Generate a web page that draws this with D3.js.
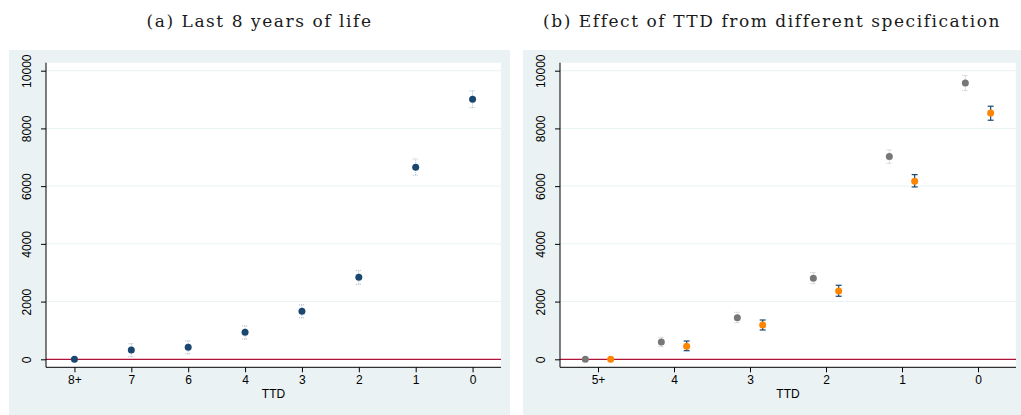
<!DOCTYPE html>
<html>
<head>
<meta charset="utf-8">
<script src="https://cdn.jsdelivr.net/npm/d3@7/dist/d3.min.js"></script>
<style>
  html, body { margin: 0; padding: 0; background: #ffffff; }
  svg { display: block; }
</style>
</head>
<body>
<svg id="chart" width="1021" height="415"></svg>
<script>
// Panel (a): coefficient by years to death, last 8 years of life
const catsA = ["8+", "7", "6", "4", "3", "2", "1", "0"];
const estA  = [0, 322, 415, 935, 1663, 2842, 6655, 9012];
const loA   = [0, 90, 190, 700, 1440, 2600, 6380, 8720];
const hiA   = [0, 540, 640, 1160, 1890, 3080, 6940, 9300];

// Panel (b): two specifications of the time-to-death effect
const catsB = ["5+", "4", "3", "2", "1", "0"];
const estB1 = [0, 600, 1442, 2808, 7023, 9577];   // grey specification
const loB1  = [0, 437, 1270, 2623, 6794, 9311];
const hiB1  = [0, 762, 1629, 3004, 7255, 9831];
const estB2 = [0, 450, 1189, 2367, 6170, 8537];   // orange specification
const loB2  = [0, 298, 1016, 2184, 5972, 8284];
const hiB2  = [0, 634, 1362, 2565, 6399, 8770];

const yTicks = [0, 2000, 4000, 6000, 8000, 10000];
const titles = ["(a) Last 8 years of life", "(b) Effect of TTD from different specification"];
const xTitle = "TTD";

const BG = "#eaf2f3";
const NAVY = "#1a476f";
const GREY = "#777777";
const ORANGE = "#ff8400";
const ZERO = "#b0123b";

const svg = d3.select("#chart");

// captions: 17px serif, lightly letter-spaced so panel (a)'s caption is about 226px wide
const TITLE_FONT = "DejaVu Serif, serif";
const TITLE_SIZE = 17;
const probe = svg.append("text")
  .attr("font-family", TITLE_FONT)
  .attr("font-size", TITLE_SIZE)
  .text(titles[0]);
const titleSpacing = Math.max(0, (226 - probe.node().getComputedTextLength()) / titles[0].length);
probe.remove();

function panel(opts) {
  const { bx, bw, px0, px1, cats, title, series } = opts;
  const by = 50, bh = 365;
  const py0 = 62.7, py1 = 367.3;

  svg.append("rect").attr("x", bx).attr("y", by).attr("width", bw).attr("height", bh).attr("fill", BG);
  svg.append("rect").attr("x", px0).attr("y", py0).attr("width", px1 - px0).attr("height", py1 - py0).attr("fill", "#ffffff");

  svg.append("text")
    .attr("x", (bx + bw / 2)).attr("y", 26.5)
    .attr("text-anchor", "middle")
    .attr("font-family", TITLE_FONT)
    .attr("font-size", TITLE_SIZE)
    .attr("letter-spacing", titleSpacing)
    .attr("fill", "#1a1a1a")
    .text(title);

  const x = d3.scaleLinear().domain([-0.5, cats.length - 0.5]).range([px0, px1]);
  const y = d3.scaleLinear().domain([0, 10000]).range([359.3, 70.7]);

  // horizontal grid lines
  svg.append("g").selectAll("line").data(yTicks.filter(d => d > 0)).join("line")
    .attr("x1", px0).attr("x2", px1)
    .attr("y1", d => y(d)).attr("y2", d => y(d))
    .attr("stroke", BG).attr("stroke-width", 1);

  // zero reference line
  svg.append("line")
    .attr("x1", px0).attr("x2", px1)
    .attr("y1", y(0)).attr("y2", y(0))
    .attr("stroke", ZERO).attr("stroke-width", 1.2);

  // y axis
  const yAxis = d3.axisLeft(y).tickValues(yTicks).tickSize(5).tickPadding(5).tickFormat(d3.format("d"));
  const gy = svg.append("g").attr("transform", `translate(${px0},0)`).call(yAxis);
  gy.select(".domain").remove();
  gy.append("line").attr("x1", 0).attr("x2", 0).attr("y1", py0).attr("y2", py1).attr("stroke", "#000").attr("stroke-width", 1);
  gy.selectAll(".tick line").attr("stroke", "#000");
  gy.selectAll(".tick text")
    .attr("transform", "rotate(-90)")
    .attr("x", 0).attr("y", -15)
    .attr("dy", "0")
    .attr("text-anchor", "middle")
    .attr("font-family", "Liberation Sans, Arial, sans-serif")
    .attr("font-size", 12)
    .attr("fill", "#000");

  // x axis
  const xAxis = d3.axisBottom(x).tickValues(d3.range(cats.length)).tickFormat(i => cats[i]).tickSize(5).tickPadding(3);
  const gx = svg.append("g").attr("transform", `translate(0,${py1})`).call(xAxis);
  gx.select(".domain").remove();
  gx.append("line").attr("x1", px0).attr("x2", px1).attr("y1", 0).attr("y2", 0).attr("stroke", "#000").attr("stroke-width", 1);
  gx.selectAll(".tick line").attr("stroke", "#000");
  gx.selectAll(".tick text")
    .attr("font-family", "Liberation Sans, Arial, sans-serif")
    .attr("font-size", 12)
    .attr("fill", "#000");

  svg.append("text")
    .attr("x", (px0 + px1) / 2).attr("y", 398)
    .attr("text-anchor", "middle")
    .attr("font-family", "Liberation Sans, Arial, sans-serif")
    .attr("font-size", 12)
    .attr("fill", "#000")
    .text(xTitle);

  // confidence intervals and point estimates
  series.forEach(s => {
    const g = svg.append("g");
    const idx = d3.range(cats.length).filter(i => s.hi[i] !== s.lo[i]);
    const cw = 3;
    const ci = g.append("g")
      .attr("stroke", s.ciColor)
      .attr("stroke-width", s.ciWidth)
      .attr("stroke-dasharray", s.ciDash);
    ci.selectAll("line.v").data(idx).join("line").attr("class", "v")
      .attr("x1", i => x(i + s.off)).attr("x2", i => x(i + s.off))
      .attr("y1", i => y(s.lo[i])).attr("y2", i => y(s.hi[i]));
    ci.selectAll("line.t").data(idx).join("line").attr("class", "t")
      .attr("x1", i => x(i + s.off) - cw).attr("x2", i => x(i + s.off) + cw)
      .attr("y1", i => y(s.hi[i])).attr("y2", i => y(s.hi[i]));
    ci.selectAll("line.b").data(idx).join("line").attr("class", "b")
      .attr("x1", i => x(i + s.off) - cw).attr("x2", i => x(i + s.off) + cw)
      .attr("y1", i => y(s.lo[i])).attr("y2", i => y(s.lo[i]));

    g.selectAll("circle").data(s.est).join("circle")
      .attr("cx", (d, i) => x(i + s.off))
      .attr("cy", d => y(d))
      .attr("r", 3.5)
      .attr("fill", s.color);
  });
}

panel({
  bx: 9, bw: 501, px0: 46, px1: 501, cats: catsA, title: titles[0],
  series: [
    { est: estA, lo: loA, hi: hiA, off: 0, color: NAVY, ciColor: "#a9bccd", ciWidth: 1, ciDash: "1,1" }
  ]
});

panel({
  bx: 523, bw: 498, px0: 560, px1: 1016, cats: catsB, title: titles[1],
  series: [
    { est: estB1, lo: loB1, hi: hiB1, off: -1 / 6, color: GREY, ciColor: "#b7c3cf", ciWidth: 1, ciDash: "1,1" },
    { est: estB2, lo: loB2, hi: hiB2, off: 1 / 6, color: ORANGE, ciColor: NAVY, ciWidth: 1.2, ciDash: null }
  ]
});
</script>
</body>
</html>
